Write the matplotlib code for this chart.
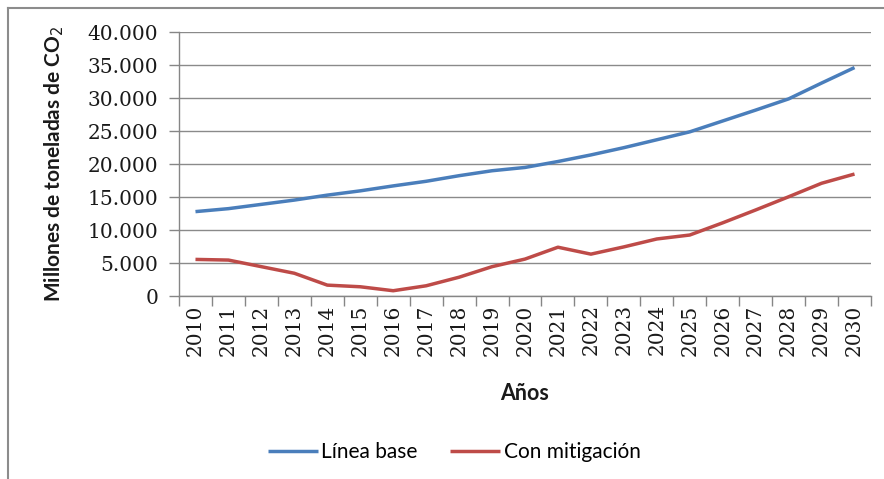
import matplotlib
matplotlib.use("Agg")
import matplotlib.pyplot as plt
from matplotlib.lines import Line2D
from matplotlib.ticker import FuncFormatter, FixedLocator

years = [str(y) for y in range(2010, 2031)]
linea_base = [12800, 13250, 13900, 14550, 15300, 15950, 16700, 17400, 18250, 19000,
              19500, 20400, 21400, 22500, 23700, 24900, 26550, 28200, 29900, 32300, 34650]
con_mitigacion = [5550, 5450, 4450, 3450, 1650, 1400, 800, 1550, 2850, 4450,
                  5600, 7400, 6350, 7450, 8650, 9250, 11100, 13050, 15050, 17100, 18500]
yticks = [0, 5000, 10000, 15000, 20000, 25000, 30000, 35000, 40000]

W, H = 884, 479
fig = plt.figure(figsize=(W / 100, H / 100), dpi=100)
fig.patch.set_facecolor("white")
ax = fig.add_axes([179 / W, 1 - 296 / H, (871 - 179) / W, (296 - 32.3) / H])

x = list(range(len(years)))
ax.plot(x, linea_base, color="#4a7ebb", lw=2.5, label="Línea base", solid_capstyle="butt")
ax.plot(x, con_mitigacion, color="#be4b48", lw=2.5, label="Con mitigación", solid_capstyle="butt")

ax.set_xlim(-0.5, len(years) - 0.5)
ax.set_ylim(0, 40000)
ax.set_yticks(yticks)
ax.yaxis.set_major_formatter(FuncFormatter(lambda v, p: f"{int(v):,}".replace(",", ".")))
ax.set_xticks(x)
ax.set_xticklabels(years, rotation=90)
ax.xaxis.set_minor_locator(FixedLocator([i - 0.5 for i in range(len(years) + 1)]))
ax.tick_params(axis="x", which="major", length=0, pad=6)
ax.tick_params(axis="x", which="minor", length=7, color="#868686", width=1, direction="out")
ax.tick_params(axis="y", length=7, color="#868686", width=1, direction="out", pad=8)
for lab in ax.get_xticklabels() + ax.get_yticklabels():
    lab.set_fontfamily("DejaVu Serif")
    lab.set_fontsize(14.5)
    lab.set_color("#1a1a1a")

ax.grid(axis="y", color="#8a8a8a", lw=1)
ax.set_axisbelow(True)
for s in ["top", "right"]:
    ax.spines[s].set_visible(False)
for s in ["left", "bottom"]:
    ax.spines[s].set_color("#868686")
    ax.spines[s].set_linewidth(1)

plt.rcParams["mathtext.fontset"] = "custom"
plt.rcParams["mathtext.rm"] = "Lato:bold"
ax.set_ylabel("Millones de toneladas de CO$_\\mathrm{2}$", fontfamily="Lato",
              fontweight="bold", fontsize=15, color="#1a1a1a")
ax.yaxis.set_label_coords(-0.164, 0.5)
fig.text(525 / W, 1 - 393 / H, "Años", fontfamily="Lato", fontweight="bold",
         fontsize=15.5, ha="center", va="center", color="#1a1a1a")

leg = fig.legend(loc="center", bbox_to_anchor=(454 / W, 1 - 452 / H), ncol=2, frameon=False,
                 prop={"family": "Lato", "size": 15}, handlelength=2.4, handletextpad=0.15,
                 columnspacing=1.6)

fig.add_artist(Line2D([8 / W, 1], [1 - 8 / H, 1 - 8 / H], transform=fig.transFigure,
                      color="#8c8c8c", lw=1.5))
fig.add_artist(Line2D([8 / W, 8 / W], [0, 1 - 8 / H], transform=fig.transFigure,
                      color="#8c8c8c", lw=1.5))

fig.savefig("out.png", dpi=100)
